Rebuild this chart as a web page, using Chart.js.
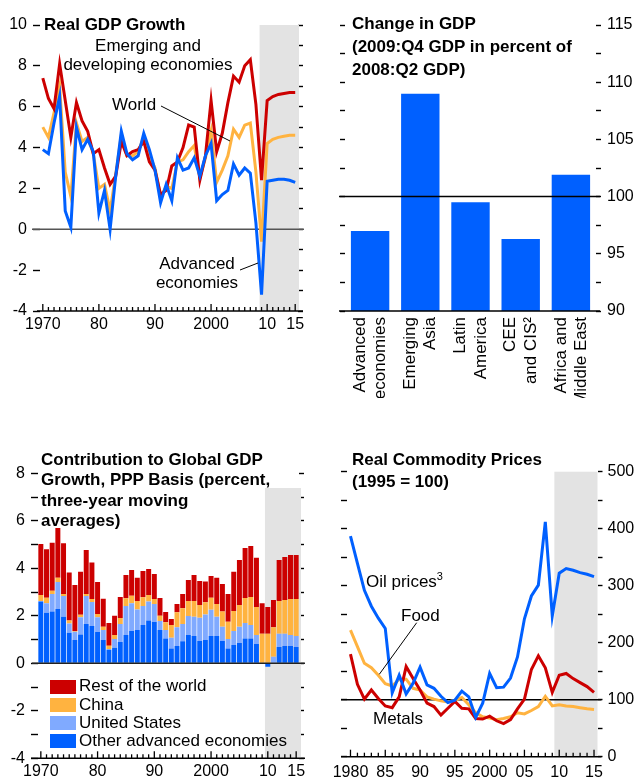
<!DOCTYPE html>
<html lang="en">
<head>
<meta charset="UTF-8">
<title>Global Growth Overview</title>
<script src="https://cdn.jsdelivr.net/npm/chart.js"></script>
<style>
  body { margin: 0; background: #fff; }
  #page { position: relative; width: 639px; height: 781px; overflow: hidden;
          font-family: 'Liberation Sans', Arial, sans-serif; color: #000; }
  #page canvas { position: absolute; }
  .lbl { position: absolute; font-size: 17px; line-height: 20px; white-space: nowrap; }
  .ttl { font-weight: bold; }
  .sup { font-size: 11px; position: relative; top: -7px; }
  .key { position: absolute; left: 50px; width: 26px; height: 14px; }
</style>
</head>
<body>
<div id="page">
  <canvas id="c1" width="320" height="345" style="left:0;top:0"></canvas>
  <canvas id="c2" width="319" height="398" style="left:320px;top:0"></canvas>
  <canvas id="c3" width="320" height="351" style="left:0;top:430px"></canvas>
  <canvas id="c4" width="319" height="351" style="left:320px;top:430px"></canvas>

  <!-- top left -->
  <div class="lbl ttl" style="left:44px;top:15px">Real GDP Growth</div>
  <div class="lbl" style="left:48px;top:36px;width:200px;text-align:center;line-height:19px">Emerging and<br>developing economies</div>
  <div class="lbl" style="left:112px;top:95px">World</div>
  <div class="lbl" style="left:97px;top:254px;width:200px;text-align:center;line-height:19px">Advanced<br>economies</div>

  <!-- top right -->
  <div class="lbl ttl" style="left:352px;top:12px;line-height:23px">Change in GDP<br>(2009:Q4 GDP in percent of<br>2008:Q2 GDP)</div>

  <!-- bottom left -->
  <div class="lbl ttl" style="left:41px;top:450px;line-height:20.3px">Contribution to Global GDP<br>Growth, PPP Basis (percent,<br>three-year moving<br>averages)</div>
  <div class="key" style="top:680px;background:#cc0000"></div>
  <div class="key" style="top:698px;background:#ffb340"></div>
  <div class="key" style="top:716px;background:#80aaff"></div>
  <div class="key" style="top:734px;background:#0060ff"></div>
  <div class="lbl" style="left:79px;top:676px">Rest of the world</div>
  <div class="lbl" style="left:79px;top:695px">China</div>
  <div class="lbl" style="left:79px;top:713px">United States</div>
  <div class="lbl" style="left:79px;top:731px">Other advanced economies</div>

  <!-- bottom right -->
  <div class="lbl ttl" style="left:352px;top:449px;line-height:21.7px">Real Commodity Prices<br>(1995 = 100)</div>
  <div class="lbl" style="left:366px;top:572px">Oil prices<span class="sup">3</span></div>
  <div class="lbl" style="left:401px;top:606px">Food</div>
  <div class="lbl" style="left:373px;top:709px">Metals</div>
</div>

<script>
// ---- data ----
const gdpYears = [1970, 1971, 1972, 1973, 1974, 1975, 1976, 1977, 1978, 1979,
  1980, 1981, 1982, 1983, 1984, 1985, 1986, 1987, 1988, 1989,
  1990, 1991, 1992, 1993, 1994, 1995, 1996, 1997, 1998, 1999,
  2000, 2001, 2002, 2003, 2004, 2005, 2006, 2007, 2008, 2009,
  2010, 2011, 2012, 2013, 2014, 2015];
const gdpTickYears = [1970, 1980, 1990, 2000, 2010, 2015];
const gdpTickText = ['1970', '80', '90', '2000', '10', '15'];

const emergingGrowth = [7.4, 6.4, 5.9, 8.1, 6.3, 4.5, 6.2, 5.3, 4.8, 3.7,
  3.9, 3.0, 2.2, 2.6, 4.3, 3.6, 3.8, 3.9, 4.3, 3.3,
  2.9, 1.7, 1.9, 3.1, 3.3, 4.0, 5.1, 5.0, 2.4, 3.6,
  6.3, 3.8, 4.7, 6.2, 7.5, 7.2, 8.0, 8.3, 6.1, 2.4,
  6.3, 6.5, 6.6, 6.65, 6.7, 6.7];
const worldGrowth = [5.0, 4.5, 5.7, 7.0, 2.8, 1.6, 5.2, 4.3, 4.5, 3.7,
  2.0, 2.2, 0.9, 2.7, 4.6, 3.6, 3.6, 3.8, 4.5, 3.6,
  3.0, 1.6, 2.1, 2.0, 3.3, 3.4, 3.8, 4.1, 2.5, 3.5,
  4.8, 2.3, 2.9, 3.6, 4.9, 4.5, 5.1, 5.2, 2.8, -0.6,
  4.2, 4.4, 4.5, 4.55, 4.6, 4.6];
const advancedGrowth = [3.9, 3.7, 5.2, 6.5, 0.9, 0.1, 5.0, 3.9, 4.4, 3.8,
  0.8, 1.9, 0.0, 2.6, 4.8, 3.7, 3.4, 3.6, 4.7, 3.9,
  2.9, 1.3, 2.2, 1.4, 3.5, 2.9, 3.0, 3.5, 2.6, 3.6,
  4.2, 1.4, 1.7, 1.9, 3.2, 2.65, 3.0, 2.75, 0.3, -3.2,
  2.35, 2.4, 2.45, 2.45, 2.4, 2.3];

const regions = [['Advanced', 'economies'], ['Emerging', 'Asia'], ['Latin', 'America'],
  ['CEE', 'and CIS\u00b2'], ['Africa and', 'Middle East']];
const gdpChange = [97.0, 109.0, 99.5, 96.3, 101.9];

const otherAdvanced = [2.6, 2.13, 2.18, 2.29, 1.96, 1.29, 0.98, 1.21, 1.66, 1.57,
  1.32, 0.98, 0.56, 0.65, 0.9, 1.19, 1.36, 1.4, 1.61, 1.8,
  1.74, 1.4, 1.04, 0.62, 0.73, 0.93, 1.19, 1.15, 0.94, 0.98,
  1.15, 1.15, 0.94, 0.62, 0.77, 0.86, 1.04, 1.04, 0.81, 0,
  -0.15, 0, 0.69, 0.73, 0.73, 0.69];
const unitedStates = [0.02, 0.4, 0.74, 1.13, 0.87, 0.39, 0.35, 0.73, 1.17, 1.01,
  0.62, 0.42, 0.04, 0.37, 0.76, 1.22, 1.17, 0.87, 0.8, 0.8,
  0.76, 0.38, 0.36, 0.46, 0.79, 0.73, 0.8, 0.81, 0.98, 1.08,
  1.1, 0.81, 0.6, 0.4, 0.59, 0.68, 0.66, 0.57, 0.38, 0,
  0, 0.28, 0.55, 0.51, 0.46, 0.46];
const china = [0.26, 0.23, 0.13, 0.18, 0.09, 0.12, 0.03, 0.1, 0.09, 0.13,
  0.14, 0.14, 0.14, 0.17, 0.25, 0.33, 0.31, 0.35, 0.37, 0.28,
  0.21, 0.22, 0.33, 0.53, 0.63, 0.66, 0.63, 0.66, 0.54, 0.51,
  0.51, 0.54, 0.64, 0.73, 0.84, 0.92, 1.05, 1.18, 1.18, 1.24,
  1.24, 1.24, 1.38, 1.43, 1.52, 1.56];
const restOfWorld = [2.14, 2.04, 2.03, 2.1, 2.13, 2.02, 1.94, 1.81, 1.85, 1.53,
  1.34, 1.18, 0.96, 0.81, 0.88, 0.98, 1.09, 0.98, 1.11, 1.09,
  1.05, 0.75, 0.43, 0.26, 0.35, 0.6, 0.89, 1.1, 1.01, 0.87,
  0.92, 1.1, 1.16, 1.17, 1.65, 1.89, 2.11, 2.15, 2.07, 1.29,
  1.13, 1.15, 1.73, 1.81, 1.85, 1.85];

const priceYears = [1980, 1981, 1982, 1983, 1984, 1985, 1986, 1987, 1988, 1989,
  1990, 1991, 1992, 1993, 1994, 1995, 1996, 1997, 1998, 1999,
  2000, 2001, 2002, 2003, 2004, 2005, 2006, 2007, 2008, 2009,
  2010, 2011, 2012, 2013, 2014, 2015];
const priceTickYears = [1980, 1985, 1990, 1995, 2000, 2005, 2010, 2015];
const priceTickText = ['1980', '85', '90', '95', '2000', '05', '10', '15'];
const oilPrices = [387, 339, 292, 264, 243, 225, 112, 143, 110, 129,
  157, 126, 120, 106, 95, 99, 115, 105, 69, 94,
  146, 121, 122, 138, 175, 242, 282, 301, 412, 247,
  322, 330, 327, 323, 320, 316];
const foodPrices = [222, 193, 164, 156, 143, 128, 124, 136, 136, 120,
  117, 105, 101, 98, 96, 99, 104, 91, 77, 70,
  68, 65, 67, 70, 77, 75, 81, 88, 106, 89,
  91, 89, 88, 86, 84, 83];
const metalPrices = [180, 127, 101, 117, 102, 89, 86, 105, 158, 137,
  117, 94, 88, 73, 85, 97, 85, 84, 67, 66,
  71, 63, 58, 65, 84, 101, 153, 177, 156, 113,
  143, 146, 137, 130, 123, 113];

// ---- style ----
const RED = '#cc0000', GOLD = '#ffb340', BLUE = '#0060ff', LIGHT = '#80aaff', SHADE = '#e3e3e3';

Chart.defaults.font.family = "'Liberation Sans', Arial, sans-serif";
Chart.defaults.font.size = 16;
Chart.defaults.color = '#000';

function hline(ctx, a, y, l) {
  const py = y.getPixelForValue(l.v);
  ctx.strokeStyle = l.color || '#000';
  ctx.lineWidth = l.w || 1.5;
  ctx.beginPath();
  ctx.moveTo(a.left - (l.l || 0), py);
  ctx.lineTo(a.right + (l.r || 0), py);
  ctx.stroke();
}

// shading, reference lines, year ticks and leader lines
const decor = {
  id: 'decor',
  beforeDatasetsDraw(chart, args, o) {
    const { ctx, chartArea: a, scales: { x, y } } = chart;
    ctx.save();
    if (o.shadeFrom !== undefined) {
      const x0 = x.getPixelForValue(o.shadeFrom);
      const top = o.shadeTop !== undefined ? y.getPixelForValue(o.shadeTop) : a.top;
      ctx.fillStyle = SHADE;
      ctx.fillRect(x0, top, a.right + (o.shadeExtra || 0) - x0, a.bottom - top);
    }
    (o.under || []).forEach(l => hline(ctx, a, y, l));
    ctx.restore();
  },
  afterDatasetsDraw(chart, args, o) {
    const { ctx, chartArea: a, scales: { y } } = chart;
    ctx.save();
    (o.over || []).forEach(l => hline(ctx, a, y, l));
    ctx.restore();
  },
  afterDraw(chart, args, o) {
    const { ctx, chartArea: a, scales: { x } } = chart;
    ctx.save();
    ctx.strokeStyle = '#000';
    ctx.lineWidth = 1.3;
    if (o.major) {
      const labels = chart.data.labels;
      labels.forEach((yr, i) => {
        const px = x.getPixelForValue(i);
        const len = o.major.includes(yr) ? 7 : 4;
        ctx.beginPath();
        ctx.moveTo(px, a.bottom);
        ctx.lineTo(px, a.bottom - len);
        ctx.stroke();
      });
    }
    ctx.lineWidth = 1;
    (o.leaders || []).forEach(p => {
      ctx.beginPath();
      ctx.moveTo(p[0], p[1]);
      ctx.lineTo(p[2], p[3]);
      ctx.stroke();
    });
    ctx.restore();
  }
};

function yearAxis(years, tickYears, tickText, height, pad) {
  return {
    type: 'category', offset: true,
    afterFit: s => { s.height = height; },
    grid: { display: false, drawTicks: false },
    border: { display: false },
    ticks: {
      autoSkip: false, maxRotation: 0, minRotation: 0, padding: pad,
      callback: (v, i) => {
        const k = tickYears.indexOf(years[i]);
        return k < 0 ? '' : tickText[k];
      }
    }
  };
}

function valueAxis(pos, min, max, step, width, tickLen, pad, every, labelled) {
  return {
    position: pos, min, max,
    afterFit: s => { s.width = width; },
    border: { display: false },
    grid: { drawOnChartArea: false, tickLength: tickLen, tickColor: '#000', tickWidth: 1.4 },
    ticks: {
      stepSize: step, maxTicksLimit: 100, padding: pad, display: labelled,
      callback: v => (Math.abs(v % every) < 1e-9 ? String(v) : '')
    }
  };
}

const base = {
  responsive: false, animation: false, devicePixelRatio: 1, events: []
};
const quiet = { legend: { display: false }, tooltip: { enabled: false } };

// ---- Real GDP growth ----
new Chart(document.getElementById('c1'), {
  type: 'line',
  data: {
    labels: gdpYears,
    datasets: [
      { data: advancedGrowth, borderColor: BLUE },
      { data: emergingGrowth, borderColor: RED },
      { data: worldGrowth, borderColor: GOLD }
    ]
  },
  options: {
    ...base,
    layout: { padding: { top: 25, left: 0, right: 0, bottom: 0 } },
    elements: { line: { borderWidth: 3, tension: 0 }, point: { radius: 0 } },
    scales: {
      x: yearAxis(gdpYears, gdpTickYears, gdpTickText, 34, 4),
      y: valueAxis('left', -4, 10, 1, 40, 7, 6, 2, true),
      y2: valueAxis('right', -4, 10, 1, 22, 5, 0, 2, false)
    },
    plugins: {
      ...quiet,
      decor: {
        shadeFrom: 38.65, shadeExtra: 1,
        under: [{ v: 0, color: '#555', w: 1.5, l: 8, r: 6 }],
        over: [{ v: -4, color: '#000', w: 1.5, l: 3, r: 5 }],
        major: gdpTickYears,
        leaders: [[161, 106, 230, 141], [240, 270, 258, 263]]
      }
    }
  },
  plugins: [decor]
});

// ---- Change in GDP ----
new Chart(document.getElementById('c2'), {
  type: 'bar',
  data: {
    labels: regions,
    datasets: [{ data: gdpChange, backgroundColor: BLUE, barPercentage: 0.765, categoryPercentage: 1 }]
  },
  options: {
    ...base,
    layout: { padding: { top: 25, left: 0, right: 0, bottom: 0 } },
    scales: {
      x: {
        afterFit: s => { s.height = 87; },
        grid: { display: false, drawTicks: false },
        border: { display: false },
        ticks: { autoSkip: false, maxRotation: 90, minRotation: 90, labelOffset: -10, padding: 6,
                 font: { size: 17 } }
      },
      y: valueAxis('left', 90, 115, 2.5, 25, 5, 0, 5, false),
      y2: valueAxis('right', 90, 115, 2.5, 43, 5, 6, 5, true)
    },
    plugins: {
      ...quiet,
      decor: {
        over: [{ v: 100, l: 6, r: 4 }, { v: 90, l: 6, r: 4 }]
      }
    }
  },
  plugins: [decor]
});

// ---- Contribution to global GDP growth ----
new Chart(document.getElementById('c3'), {
  type: 'bar',
  data: {
    labels: gdpYears,
    datasets: [
      { label: 'Other advanced economies', data: otherAdvanced, backgroundColor: BLUE },
      { label: 'United States', data: unitedStates, backgroundColor: LIGHT },
      { label: 'China', data: china, backgroundColor: GOLD },
      { label: 'Rest of the world', data: restOfWorld, backgroundColor: RED }
    ]
  },
  options: {
    ...base,
    layout: { padding: { top: 43.3, left: 0, right: 0, bottom: 0 } },
    datasets: { bar: { barPercentage: 0.88, categoryPercentage: 1 } },
    scales: {
      x: { ...yearAxis(gdpYears, gdpTickYears, gdpTickText, 22.7, 4), stacked: true },
      y: { ...valueAxis('left', -4, 8, 1, 38, 7, 6, 2, true), stacked: true },
      y2: valueAxis('right', -4, 8, 1, 21, 5, 0, 2, false)
    },
    plugins: {
      ...quiet,
      decor: {
        shadeFrom: 39.5, shadeTop: 7.38, shadeExtra: 2,
        over: [{ v: 0, color: '#222', w: 1.5, l: 6, r: 6 }, { v: -4, color: '#000', w: 1.5, l: 7, r: 6 }],
        major: gdpTickYears
      }
    }
  },
  plugins: [decor]
});

// ---- Real commodity prices ----
new Chart(document.getElementById('c4'), {
  type: 'line',
  data: {
    labels: priceYears,
    datasets: [
      { data: oilPrices, borderColor: BLUE },
      { data: metalPrices, borderColor: RED },
      { data: foodPrices, borderColor: GOLD }
    ]
  },
  options: {
    ...base,
    layout: { padding: { top: 41.7, left: 0, right: 0, bottom: 0 } },
    elements: { line: { borderWidth: 3, tension: 0 }, point: { radius: 0 } },
    scales: {
      x: yearAxis(priceYears, priceTickYears, priceTickText, 24.3, 6),
      y: valueAxis('left', 0, 500, 50, 27, 6, 0, 100, false),
      y2: valueAxis('right', 0, 500, 50, 41.5, 5, 5, 100, true)
    },
    plugins: {
      ...quiet,
      decor: {
        shadeFrom: 29.3, shadeExtra: 0,
        under: [{ v: 100, l: 6, r: 4 }],
        over: [{ v: 0, color: '#000', w: 1.5, l: 6, r: 4 }],
        major: priceTickYears,
        leaders: [[96.7, 192.7, 59.3, 244.3]]
      }
    }
  },
  plugins: [decor]
});
</script>
</body>
</html>
